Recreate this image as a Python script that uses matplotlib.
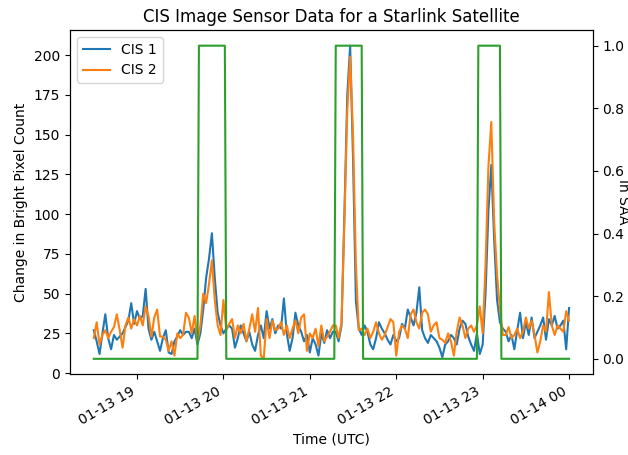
import numpy as np
import pandas as pd
import matplotlib
matplotlib.use("Agg")
import matplotlib.pyplot as plt

# ---- data ----
start_time = "2023-01-13 18:30"
sample_step = "2min"

cis1 = [27, 20, 12, 25, 37, 22, 15, 24, 21, 23, 25, 29, 33, 44, 31, 39, 34, 36, 53, 28,
        21, 26, 20, 14, 22, 27, 13, 12, 20, 23, 27, 24, 26,
        26, 22, 28, 18, 25, 40, 60, 72, 88, 60, 38, 30, 25, 28, 30,
        28, 16, 22, 30, 25, 20, 26, 18, 14, 24, 30, 22, 39, 28, 34, 25, 30, 28, 47, 25,
        14, 22, 38, 30, 26, 20, 24, 13, 22, 18, 11, 25, 19, 27, 22, 26,
        26, 20, 30, 100, 175, 206, 135, 45, 28, 24, 30,
        26, 18, 15, 22, 32, 28, 25, 21, 18, 24, 20, 22, 31, 28, 40, 35, 30, 38, 54, 27,
        22, 19, 24, 22, 20, 16, 10, 18, 20, 24, 22, 18, 28, 33, 31, 23, 18, 14, 25,
        12, 18, 50, 102, 131, 84, 46, 32, 28,
        26, 20, 24, 15, 27, 38, 22, 32, 24, 35, 22, 26, 30, 35, 21, 34, 30, 36, 28, 30,
        33, 15, 41]

cis2 = [22, 32, 18, 24, 27, 22, 26, 29, 37, 27, 16, 30, 35, 28, 34, 30, 36, 30, 42, 36,
        23, 35, 40, 23, 23, 21, 14, 20, 11, 25, 22, 24, 38,
        35, 25, 36, 20, 30, 50, 44, 56, 71, 46, 30, 24, 46, 27, 31,
        34, 22, 30, 25, 31, 20, 28, 37, 26, 41, 11, 9, 34, 22, 33, 27, 28, 32, 24, 30,
        22, 28, 33, 25, 35, 37, 14, 25, 22, 28, 17, 30, 20, 23, 26, 30,
        30, 22, 32, 95, 165, 199, 150, 68, 27, 28, 24,
        28, 22, 26, 32, 25, 21, 24, 29, 34, 32, 11, 26, 30, 28, 22, 37, 40, 32, 28, 38,
        40, 37, 26, 30, 32, 22, 21, 19, 25, 20, 11, 26, 35, 30, 22, 28, 30, 26, 30,
        42, 25, 68, 130, 158, 95, 62, 40, 24,
        24, 29, 22, 24, 28, 22, 26, 35, 28, 33, 24, 13, 20, 30, 26, 51, 30, 24, 30, 28,
        26, 39, 33]

# SAA passages (1-minute flag series)
saa_start = ["2023-01-13 19:43", "2023-01-13 21:18", "2023-01-13 22:57"]
saa_end = ["2023-01-13 20:01", "2023-01-13 21:36", "2023-01-13 23:12"]
saa_range_end = "2023-01-14 00:00"

series_labels = ["CIS 1", "CIS 2"]

# ---- build time axes ----
times = pd.date_range(start_time, periods=len(cis1), freq=sample_step)
saa_times = pd.date_range(start_time, saa_range_end, freq="1min")
saa = np.zeros(len(saa_times))
for s, e in zip(saa_start, saa_end):
    saa[(saa_times >= pd.Timestamp(s)) & (saa_times <= pd.Timestamp(e))] = 1.0

# ---- plot ----
fig, ax = plt.subplots(figsize=(6.28, 4.55), dpi=100)
fig.subplots_adjust(left=0.1115, right=0.944, bottom=0.177, top=0.934)

ax.plot(times, cis1, color="C0", label=series_labels[0])
ax.plot(times, cis2, color="C1", label=series_labels[1])
ax.set_ylabel("Change in Bright Pixel Count")
ax.set_xlabel("Time (UTC)")
ax.set_title("CIS Image Sensor Data for a Starlink Satellite")
ax.legend(loc="upper left")

ax2 = ax.twinx()
ax2.plot(saa_times, saa, color="C2")
ax2.set_ylabel("In SAA", rotation=270)

for lbl in ax.get_xticklabels():
    lbl.set_rotation(30)
    lbl.set_ha("right")

fig.savefig("out.png", dpi=100)
